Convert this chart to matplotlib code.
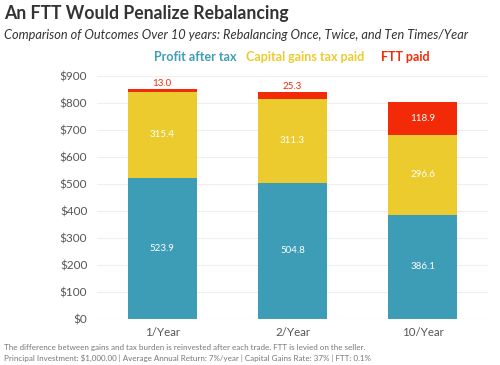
import matplotlib.pyplot as plt
import numpy as np

plt.rcParams['font.family'] = ['Lato', 'DejaVu Sans']

cats = ['1/Year', '2/Year', '10/Year']
profit = [523.9, 504.8, 386.1]
cgt = [315.4, 311.3, 296.6]
ftt = [13.0, 25.3, 118.9]
yticks = [0, 100, 200, 300, 400, 500, 600, 700, 800, 900]

c_profit = '#3d9cb6'
c_cgt = '#eccb2e'
c_ftt = '#f22a08'

fig = plt.figure(figsize=(5, 3.65), dpi=100)
ax = fig.add_axes([0.194, 0.126, 0.782, 0.666])

x = np.arange(len(cats))
w = 0.53
ax.bar(x, profit, w, color=c_profit)
ax.bar(x, cgt, w, bottom=profit, color=c_cgt)
base = np.array(profit) + np.array(cgt)
ax.bar(x, ftt, w, bottom=base, color=c_ftt)

for i in range(len(cats)):
    ax.text(x[i], profit[i] / 2, f'{profit[i]:.1f}', ha='center', va='center',
            color='white', fontsize=7)
    ax.text(x[i], profit[i] + cgt[i] / 2, f'{cgt[i]:.1f}', ha='center', va='center',
            color='white', fontsize=7)
    if ftt[i] > 50:
        ax.text(x[i], base[i] + ftt[i] / 2, f'{ftt[i]:.1f}', ha='center', va='center',
                color='white', fontsize=7)
    else:
        ax.text(x[i], base[i] + ftt[i] + 4, f'{ftt[i]:.1f}', ha='center', va='bottom',
                color=c_ftt, fontsize=7)

ax.set_xlim(-0.5, 2.5)
ax.set_ylim(0, 900)
ax.set_yticks(yticks)
ax.set_yticklabels([f'${v}' for v in yticks], fontsize=8.5, color='#555555')
ax.set_xticks(x)
ax.set_xticklabels(cats, fontsize=8.3, color='#555555')
ax.tick_params(length=0, pad=7, axis='y')
ax.tick_params(length=0, pad=6, axis='x')
ax.grid(axis='y', color='#eeeeee', linewidth=0.8)
ax.set_axisbelow(True)
for s in ax.spines.values():
    s.set_visible(False)
ax.axhline(0, color='#dddddd', linewidth=0.8)

fig.text(0.008, 0.962, 'An FTT Would Penalize Rebalancing', fontsize=12.7,
         fontweight='bold', color='#333333', va='center')
fig.text(0.008, 0.905, 'Comparison of Outcomes Over 10 years: Rebalancing Once, Twice, and Ten Times/Year',
         fontsize=9.2, style='italic', color='#333333', va='center')

leg_y = 0.843
fig.text(0.472, leg_y, 'Profit after tax', fontsize=9, fontweight='bold', color=c_profit,
         ha='right', va='center')
fig.text(0.492, leg_y, 'Capital gains tax paid', fontsize=9, fontweight='bold', color=c_cgt,
         ha='left', va='center')
fig.text(0.762, leg_y, 'FTT paid', fontsize=9, fontweight='bold', color=c_ftt,
         ha='left', va='center')

fig.text(0.008, 0.047, 'The difference between gains and tax burden is reinvested after each trade. FTT is levied on the seller.',
         fontsize=5.8, color='#777777', va='center')
fig.text(0.008, 0.019, 'Principal Investment: $1,000.00 | Average Annual Return: 7%/year | Capital Gains Rate: 37% | FTT: 0.1%',
         fontsize=5.8, color='#777777', va='center')

fig.savefig('out.png', dpi=100)
